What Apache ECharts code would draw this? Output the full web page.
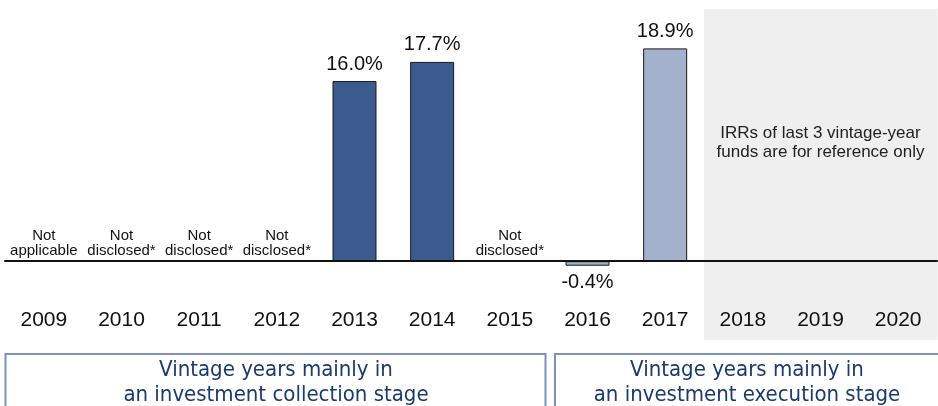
<!DOCTYPE html>
<html><head><meta charset="utf-8">
<style>html,body{margin:0;padding:0;background:#fff}#c{width:938px;height:406px}</style>
<script src="https://cdn.jsdelivr.net/npm/echarts@6/dist/echarts.min.js"></script>
</head><body><div id="c"></div>
<script>
const years = ['2009','2010','2011','2012','2013','2014','2015','2016','2017','2018','2019','2020'];
const irr = [0, 0, 0, 0, 16.0, 17.7, 0, -0.4, 18.9, null, null, null];
const notes = ['Not\napplicable','Not\ndisclosed*','Not\ndisclosed*','Not\ndisclosed*','','','Not\ndisclosed*','','','','',''];
const referenceOnly = ['2018','2019','2020'];
const refNote = 'IRRs of last 3 vintage-year\nfunds are for reference only';
const boxTexts = ['Vintage years mainly in\nan investment collection stage','Vintage years mainly in\nan investment execution stage'];
const darkBlue = '#3b5b8e', lightBlue = '#a4b1cc';
const colorIdx = [0,0,0,0,0,0,0,1,1,1,1,1];
const yMin = -7, yMax = 22.4;

const chart = echarts.init(document.getElementById('c'));
chart.setOption({
  animation: false,
  grid: {left: 5, right: 1, top: 9, bottom: 66},
  xAxis: {
    type: 'category', data: years, z: 5,
    axisLine: {onZero: true, lineStyle: {color: '#111', width: 2}},
    axisTick: {show: false},
    axisLabel: {margin: -30, fontSize: 21, color: '#111', fontFamily: 'Liberation Sans'}
  },
  yAxis: {type: 'value', min: yMin, max: yMax, show: false},
  series: [{
    type: 'custom', silent: true, z: 1,
    data: referenceOnly.map(y => [y]),
    encode: {x: 0},
    renderItem: function (params, api) {
      const x = api.value(0);
      const top = api.coord([x, yMax]);
      const bot = api.coord([x, yMin]);
      const w = api.size([1, 0])[0];
      const children = [{type: 'rect', shape: {x: top[0] - w / 2, y: top[1], width: w + 0.5, height: bot[1] - top[1]}, style: {fill: '#efefef'}}];
      if (params.dataIndex === referenceOnly.length - 1) {
        const mid = api.coord([years.indexOf(referenceOnly[1]), 10.5]);
        children.push({type: 'text', x: mid[0], y: mid[1], style: {text: refNote, align: 'center', verticalAlign: 'middle', fontSize: 17, lineHeight: 19, fill: '#222', fontFamily: 'Liberation Sans'}});
      }
      return {type: 'group', children: children};
    }
  },{
    type: 'bar', barWidth: 44, z: 3,
    data: irr.map((v, i) => ({
      value: v,
      itemStyle: {color: colorIdx[i] ? lightBlue : darkBlue, borderColor: '#1a1a1a', borderWidth: 1},
      label: v === null ? {show: false} : (v === 0 ? {
        show: true, position: 'top', distance: 2, formatter: notes[i],
        fontSize: 15, lineHeight: 15, color: '#111', fontFamily: 'Liberation Sans'
      } : {
        show: true, position: v < 0 ? 'bottom' : 'top', distance: 7,
        formatter: v.toFixed(1) + '%', fontSize: 20, color: '#111', fontFamily: 'Liberation Sans'
      })
    }))
  }],
  graphic: [
    {type: 'rect', z: 10, shape: {x: 5.5, y: 354, width: 540, height: 60}, style: {fill: '#fff', stroke: '#7b93bb', lineWidth: 2}},
    {type: 'rect', z: 10, shape: {x: 555, y: 354, width: 390, height: 60}, style: {fill: '#fff', stroke: '#7b93bb', lineWidth: 2}},
    {type: 'text', z: 11, x: 276, y: 383, style: {text: boxTexts[0], align: 'center', verticalAlign: 'middle', fontSize: 22, lineHeight: 25, fill: '#1b3a6e', fontFamily: 'DejaVu Sans Condensed'}},
    {type: 'text', z: 11, x: 747, y: 383, style: {text: boxTexts[1], align: 'center', verticalAlign: 'middle', fontSize: 22, lineHeight: 25, fill: '#1b3a6e', fontFamily: 'DejaVu Sans Condensed'}}
  ]
});
</script></body></html>
